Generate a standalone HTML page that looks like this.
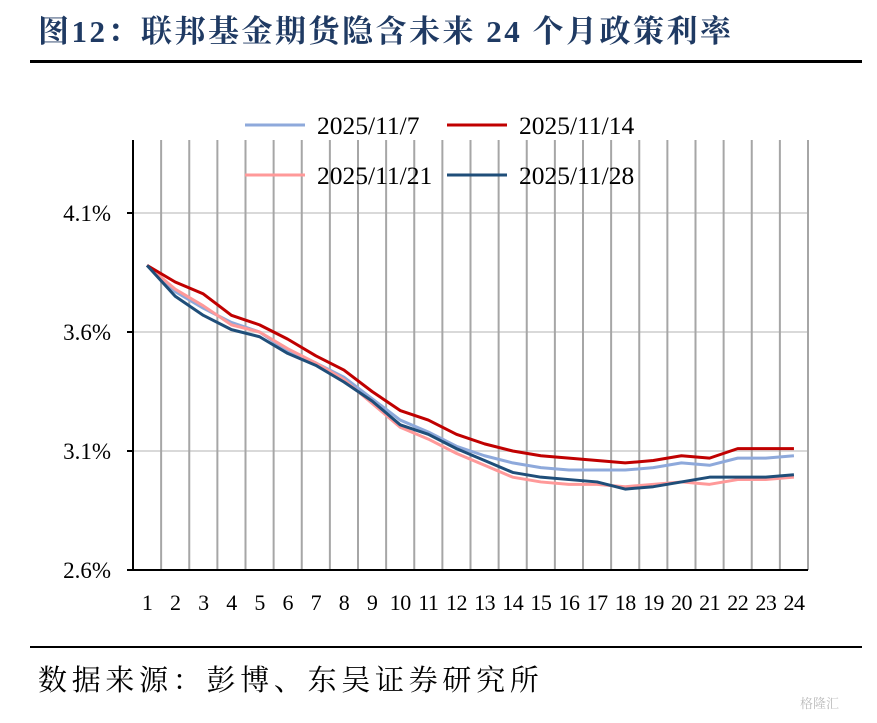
<!DOCTYPE html>
<html><head><meta charset="utf-8"><style>
body{margin:0;background:#fff;}
svg text{font-family:"Liberation Serif","Noto Serif CJK SC",serif;}
</style></head><body>
<svg width="877" height="718" xmlns="http://www.w3.org/2000/svg">
<text x="38" y="42" font-size="31" letter-spacing="2.5" font-weight="bold" fill="#1F3A63">图12：联邦基金期货隐含未来 24 个月政策利率</text>
<rect x="30" y="60" width="832" height="3" fill="#000"/>
<rect x="30" y="646" width="832" height="2" fill="#000"/>
<text x="38" y="690" font-size="29" letter-spacing="4.7" fill="#000">数据来源：彭博、东吴证券研究所</text>
<text x="800" y="708" font-size="13" fill="#bbb" font-family="Liberation Sans,Noto Sans CJK SC,sans-serif">格隆汇</text>
<g id="grid"></g><g id="series"></g><g id="axes"></g><g id="legend"></g>
</svg>
<script>
const categories=[1,2,3,4,5,6,7,8,9,10,11,12,13,14,15,16,17,18,19,20,21,22,23,24];
const yTicks=[2.6,3.1,3.6,4.1];
const seriesNames=["2025/11/7","2025/11/14","2025/11/21","2025/11/28"];
const s1107=[3.88,3.77,3.70,3.64,3.60,3.52,3.47,3.41,3.32,3.23,3.18,3.12,3.08,3.05,3.03,3.02,3.02,3.02,3.03,3.05,3.04,3.07,3.07,3.08];
const s1114=[3.88,3.81,3.76,3.67,3.63,3.57,3.50,3.44,3.35,3.27,3.23,3.17,3.13,3.10,3.08,3.07,3.06,3.05,3.06,3.08,3.07,3.11,3.11,3.11];
const s1121=[3.88,3.78,3.71,3.63,3.60,3.53,3.47,3.40,3.30,3.20,3.15,3.09,3.04,2.99,2.97,2.96,2.96,2.95,2.96,2.97,2.96,2.98,2.98,2.99];
const s1128=[3.88,3.75,3.67,3.61,3.58,3.51,3.46,3.39,3.31,3.21,3.17,3.11,3.06,3.01,2.99,2.98,2.97,2.94,2.95,2.97,2.99,2.99,2.99,3.00];
const NS="http://www.w3.org/2000/svg";
const L=133,R=808,T=140,B=570,yMin=2.6,yMax=4.1,yTop=213;
const step=(R-L)/categories.length;
const xS=i=>L+step*(i+0.5);
const yS=v=>B-(v-yMin)/(yMax-yMin)*(B-yTop);
function mk(tag,attrs,parent){const e=document.createElementNS(NS,tag);for(const k in attrs)e.setAttribute(k,attrs[k]);parent.appendChild(e);return e;}
const grid=document.getElementById('grid'),axes=document.getElementById('axes'),ser=document.getElementById('series'),leg=document.getElementById('legend');
yTicks.forEach(t=>{
 if(t>yMin){const g=mk('line',{x1:L,x2:R,y1:yS(t),y2:yS(t),stroke:'#d9d9d9','stroke-width':2},grid);
 
 }
 const tk=mk('line',{x1:L-6,x2:L,y1:yS(t),y2:yS(t),stroke:'#000','stroke-width':2},axes);
 
 
 const lb=mk('text',{x:L-22,y:yS(t)+8,'text-anchor':'end','font-size':23},axes);
 lb.textContent=t.toFixed(1)+'%';
 
 
});
categories.forEach((c,i)=>{
 const gx=L+step*(i+1);
 const g=mk('line',{x1:gx,x2:gx,y1:T,y2:B,stroke:'#a6a6a6','stroke-width':2},grid);
 
 
 const lb=mk('text',{x:xS(i),y:610,'text-anchor':'middle','font-size':22,'letter-spacing':-0.5},axes);
 lb.textContent=c;
 
 
});
const ya=mk('line',{x1:L,x2:L,y1:T,y2:B+1,stroke:'#000','stroke-width':2},axes);


const xa=mk('line',{x1:L-6,x2:R,y1:B,y2:B,stroke:'#000','stroke-width':2},axes);


const data=[s1107,s1114,s1121,s1128];
const colors=['#8EA9DB','#C00000','#FF9999','#1F4E79'];
const names=['series-2025-11-7','series-2025-11-14','series-2025-11-21','series-2025-11-28'];
[0,2,1,3].forEach(k=>{
 const p=mk('polyline',{points:data[k].map((v,i)=>xS(i)+','+yS(v)).join(' '),fill:'none',stroke:colors[k],'stroke-width':3,'stroke-linejoin':'round'},ser);
 
 
});
const lpos=[[245,125],[447,125],[245,175],[447,175]];
seriesNames.forEach((n,k)=>{
 const [x,y]=lpos[k];
 const ln=mk('line',{x1:x,x2:x+60,y1:y,y2:y,stroke:colors[k],'stroke-width':3},leg);
 
 
 const t=mk('text',{x:x+72,y:y+9,'font-size':25.5},leg);
 t.textContent=n;
 
 
});
</script>
</body></html>
